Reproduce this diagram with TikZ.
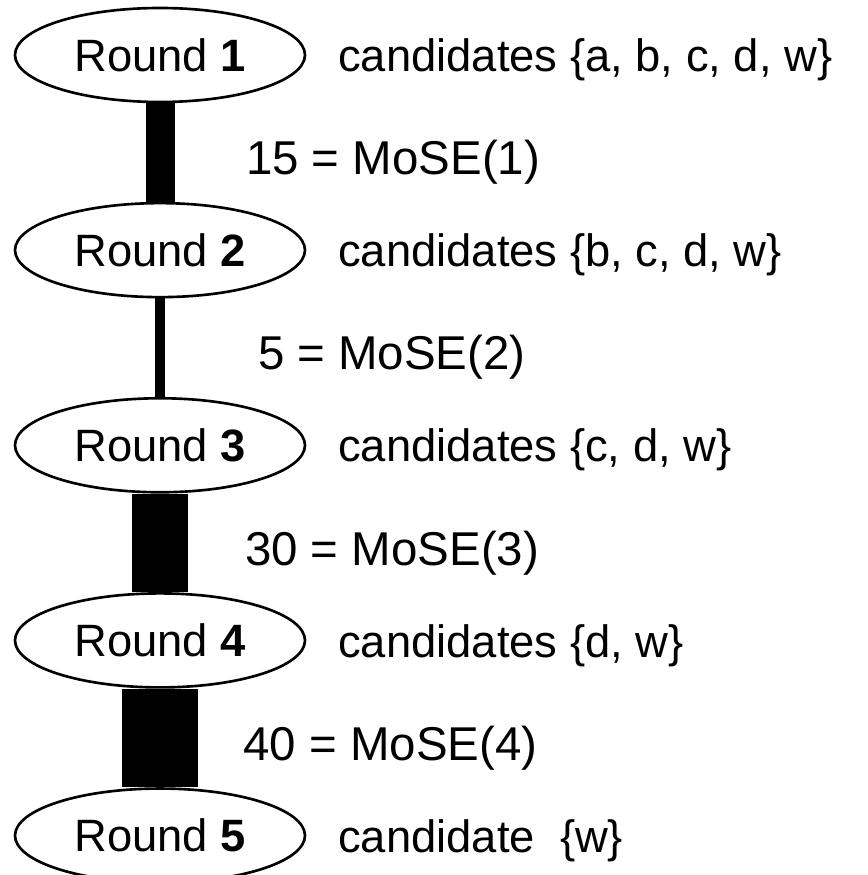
\documentclass[tikz,border=0pt]{standalone}
\usepackage{fontspec}
\setmainfont{Liberation Sans}
\usetikzlibrary{positioning, shapes.geometric}
\tikzstyle{stage} = [draw, ellipse, line width=1.5pt, minimum width=5.8cm, minimum height=1.88cm, inner sep=0pt, font=\fontsize{25.8}{31}\selectfont]
\tikzstyle{cands} = [anchor=west, inner sep=0pt, outer sep=0pt, font=\fontsize{25.8}{31}\selectfont]
\tikzstyle{mose} = [cands, midway, yshift=-2mm, font=\fontsize{27}{32}\selectfont]
\tikzstyle{bar} = [line cap=butt]

\begin{document}
\begin{tikzpicture}[node distance=1.97cm]
    \useasboundingbox (-3.2,1.1) rectangle (14.16,-16.4);

    % Rounds.
    \node (round 1) [stage] {Round \textbf{1}};
    \foreach \j in {2, ..., 5} {%
        \pgfmathtruncatemacro{\i}{\j - 1}
        \node (round \j) [stage, below=of round \i] {Round \textbf{\j}};
    }

    % Candidates left in each round.
    \node (cands 1) [cands, right=0.64cm of round 1, yshift=-1mm] {candidates \{a, b, c, d, w\}};
    \node (cands 2) [cands, right=0.64cm of round 2, yshift=-1mm] {candidates \{b, c, d, w\}};
    \node (cands 3) [cands, right=0.64cm of round 3, yshift=-1mm] {candidates \{c, d, w\}};
    \node (cands 4) [cands, right=0.64cm of round 4, yshift=-1mm] {candidates \{d, w\}};
    \node (cands 5) [cands, right=0.64cm of round 5, yshift=-1mm] {candidate\ \ \{w\}};

    % Bars between rounds, width after the score.
    \foreach \j/\w/\s/\dx in {1/0.58/15/1.72, 2/0.2/5/1.96, 3/1.12/30/1.70, 4/1.52/40/1.67} {%
        \pgfmathtruncatemacro{\k}{\j + 1}
        \draw [bar, line width=\w cm] (round \j) -- (round \k)
            node (mose \j) [mose, xshift=\dx cm] {\s\ = MoSE(\j)};
    }
\end{tikzpicture}
\end{document}
